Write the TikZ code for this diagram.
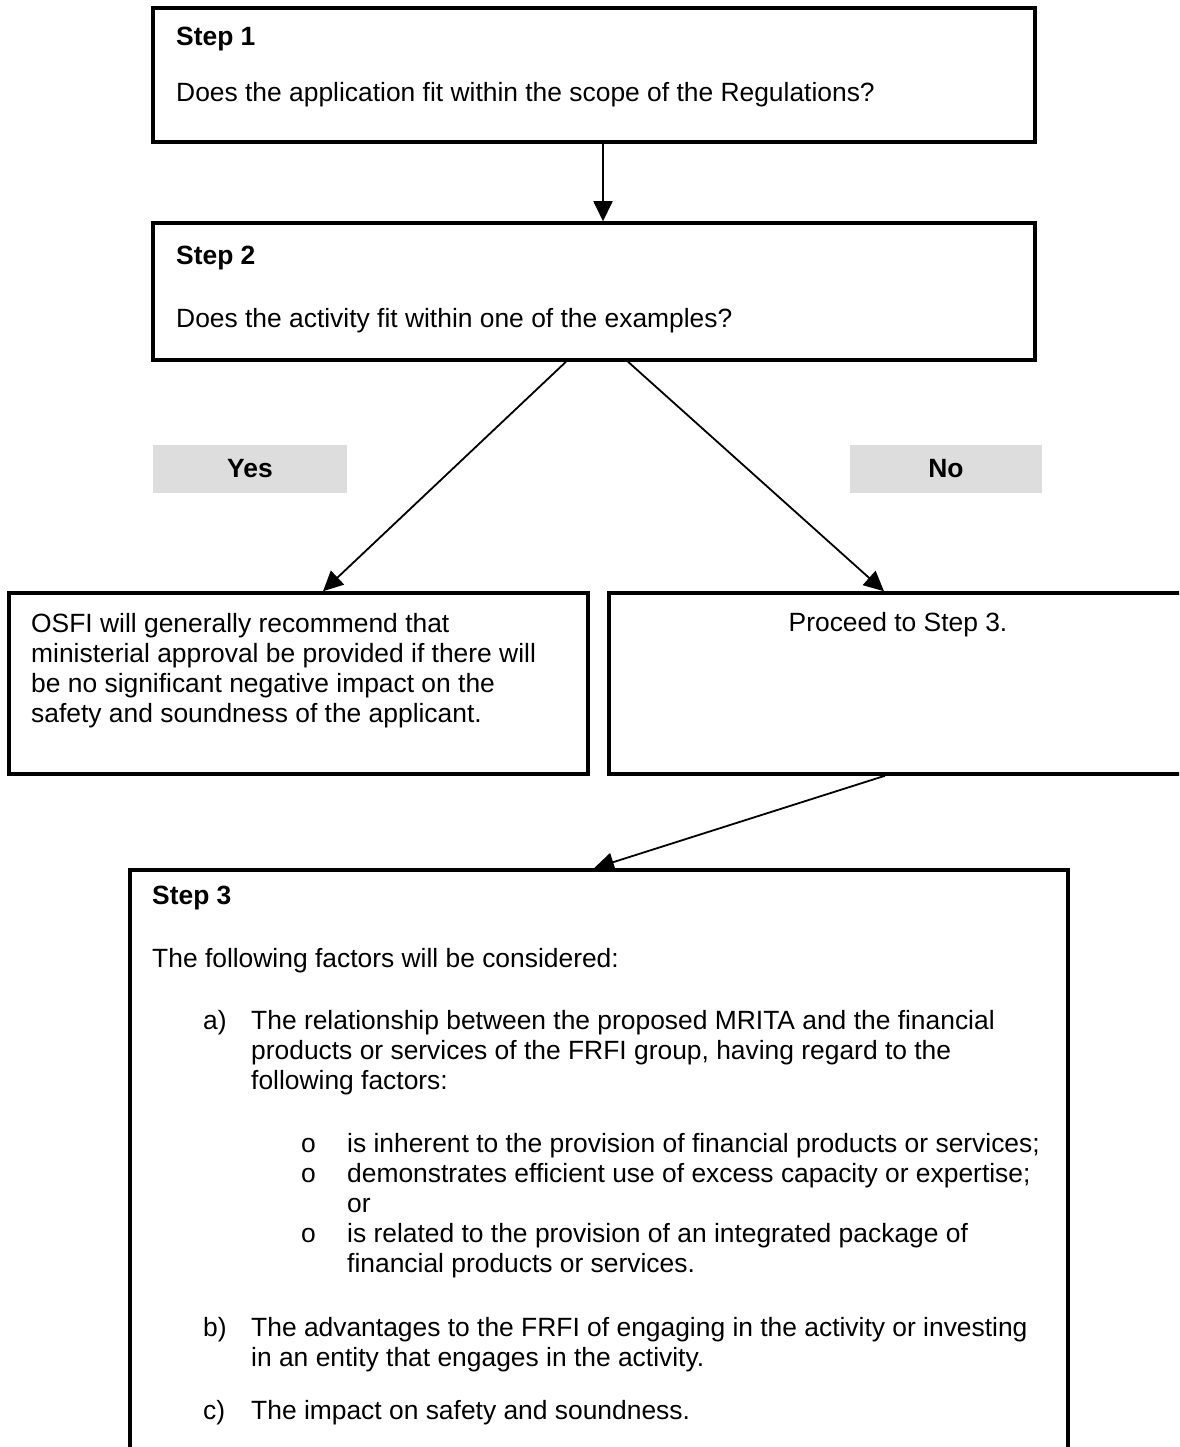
\documentclass[tikz,border=0pt]{standalone}
\usepackage{fontspec}
\setmainfont{Liberation Sans}
\usetikzlibrary{arrows.meta}
\definecolor{lblgray}{RGB}{221,221,221}
\newcommand{\bodyfont}{\fontsize{26.4}{30}\selectfont}
\begin{document}
\begin{tikzpicture}[x=1pt,y=-1pt,
  box/.style={draw=black, line width=3.5pt, fill=white, inner sep=0pt},
  tag/.style={fill=lblgray, inner sep=0pt, minimum height=48pt, font=\bodyfont\bfseries},
  txt/.style={anchor=base west, inner sep=0pt, font=\bodyfont},
  hdr/.style={anchor=base west, inner sep=0pt, font=\bodyfont\bfseries},
  conn/.style={line width=1.8pt, -{Triangle[length=20pt,width=19pt]}}]
\useasboundingbox (0,0) rectangle (1179,1447);
\fill[white] (0,0) rectangle (1179,1447);
\clip (0,0) rectangle (1179,1447);

% boxes
\node[box, minimum width=882pt, minimum height=134pt] (s1) at (594,75) {};
\node[box, minimum width=882pt, minimum height=137pt] (s2) at (594,291.5) {};
\node[tag, minimum width=194pt] (yes) at (250,469) {Yes};
\node[tag, minimum width=192pt] (no) at (946,469) {No};
\node[box, minimum width=579pt, minimum height=181pt] (osfi) at (298.5,683.5) {};
\node[box, minimum width=573pt, minimum height=181pt] (proc) at (895.5,683.5) {};
\node[box, minimum width=938pt, minimum height=610pt] (s3) at (599,1175) {};

% connectors
\draw[conn] ([xshift=9pt]s1.south) -- ([xshift=9pt]s2.north);
\draw[conn] ([xshift=-28pt]s2.south) -- ([xshift=24.5pt]osfi.north);
\draw[conn] ([xshift=34pt]s2.south) -- ([xshift=-11.5pt]proc.north);
\draw[conn] ([xshift=-10.5pt]proc.south) -- ([xshift=-5pt]s3.north);

% Step 1
\node[hdr] (s1h) at (176,45.5) {Step 1};
\node[txt] (s1t) at (176,101.5) {Does the application fit within the scope of the Regulations?};
% Step 2
\node[hdr] (s2h) at (176,264.5) {Step 2};
\node[txt] (s2t) at (176,327.5) {Does the activity fit within one of the examples?};
% OSFI
\node[txt] (o1) at (31,632.5) {OSFI will generally recommend that};
\node[txt] (o2) at (31,662.5) {ministerial approval be provided if there will};
\node[txt] (o3) at (31,692.5) {be no significant negative impact on the};
\node[txt] (o4) at (31,722.5) {safety and soundness of the applicant.};
% Proceed
\node[anchor=base, inner sep=0pt, font=\bodyfont] (p1) at (898,631.5) {Proceed to Step 3.};
% Step 3
\node[hdr] (s3h) at (152,904.5) {Step 3};
\node[txt] (s3t) at (152,967.5) {The following factors will be considered:};
\node[txt] (la) at (203,1029.5) {a)};
\node[txt] (a1) at (251,1029.5) {The relationship between the proposed MRITA and the financial};
\node[txt] (a2) at (251,1059.5) {products or services of the FRFI group, having regard to the};
\node[txt] (a3) at (251,1089.5) {following factors:};
\node[txt] (b1o) at (301,1152.5) {o};
\node[txt] (b1) at (347,1152.5) {is inherent to the provision of financial products or services;};
\node[txt] (b2o) at (301,1182.5) {o};
\node[txt] (b2) at (347,1182.5) {demonstrates efficient use of excess capacity or expertise;};
\node[txt] (b2b) at (347,1212.5) {or};
\node[txt] (b3o) at (301,1242.5) {o};
\node[txt] (b3) at (347,1242.5) {is related to the provision of an integrated package of};
\node[txt] (b3b) at (347,1272.5) {financial products or services.};
\node[txt] (lb) at (203,1336.5) {b)};
\node[txt] (bb1) at (251,1336.5) {The advantages to the FRFI of engaging in the activity or investing};
\node[txt] (bb2) at (251,1366.5) {in an entity that engages in the activity.};
\node[txt] (lc) at (203,1419.5) {c)};
\node[txt] (c1) at (251,1419.5) {The impact on safety and soundness.};
\end{tikzpicture}
\end{document}
